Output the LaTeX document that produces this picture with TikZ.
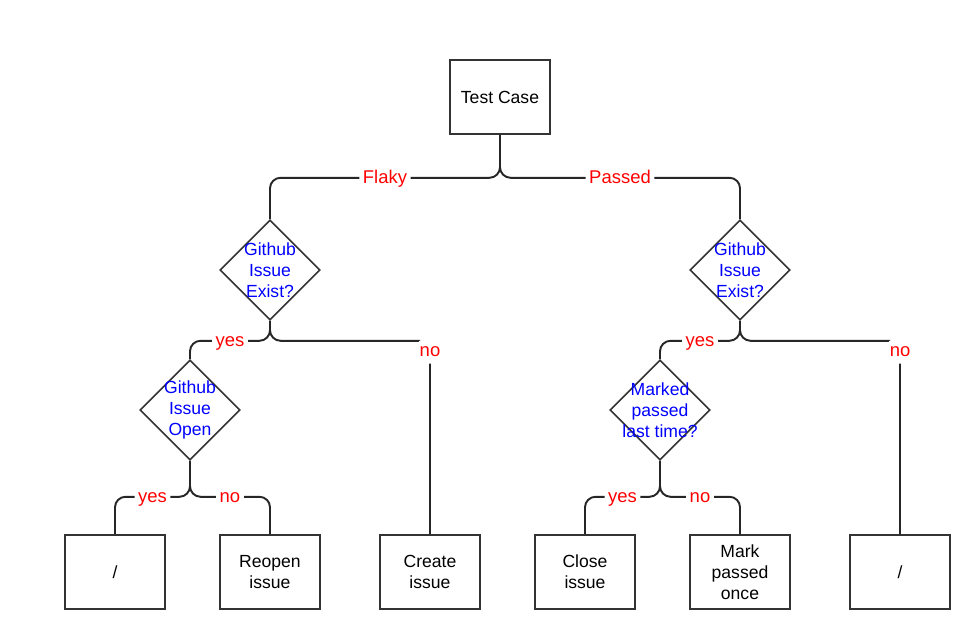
\documentclass[tikz,border=0pt]{standalone}
\usepackage{fontspec}
\setmainfont{Liberation Sans}
\usetikzlibrary{shapes.geometric}

\begin{document}
\begin{tikzpicture}[x=0.02cm, y=-0.02cm,
		box/.style={draw=black!80, line width=0.9pt, minimum width=2cm, minimum height=1.48cm, align=center, font=\fontsize{10}{12}\selectfont},
		question/.style={draw=black!80, line width=0.9pt, diamond, minimum width=2cm, minimum height=2cm, inner sep=0pt},
		ask/.style={text=blue, align=center, font=\fontsize{10}{12}\selectfont},
		branch/.style={draw=black!85, line width=1.1pt, rounded corners=6pt},
		answer/.style={text=red, fill=white, inner sep=2pt, text height=1.6ex, text depth=0.4ex, font=\fontsize{10.5}{12}\selectfont}]
		\useasboundingbox (0,0) rectangle (970,629);
		
		% top
		\node[box] (tc) at (500,97) {Test Case};
		
		% questions
		\node[question, label={[ask]center:Github\\Issue\\Exist?}] (q1) at (270,270) {};
		\node[question, label={[ask]center:Github\\Issue\\Exist?}] (q2) at (740,270) {};
		\node[question, label={[ask]center:Github\\Issue\\Open}] (q3) at (190,410) {};
		\node[question, label={[ask]center:Marked\\passed\\last time?}] (q4) at (660,410) {};
		
		% actions
		\node[box] (a1) at (115,572) {/};
		\node[box] (a2) at (270,572) {Reopen\\issue};
		\node[box] (a3) at (430,572) {Create\\issue};
		\node[box] (a4) at (585,572) {Close\\issue};
		\node[box] (a5) at (740,572) {Mark\\passed\\once};
		\node[box] (a6) at (900,572) {/};
		
		% branches
		\draw[branch] (tc.south) -- ++(0,43) -| node[answer,pos=0.25] {Flaky} (q1.north);
		\draw[branch] (tc.south) -- ++(0,43) -| node[answer,pos=0.25] {Passed} (q2.north);
		
		\draw[branch] (q1.south) -- ++(0,20) -| node[answer,pos=0.25] {yes} (q3.north);
		\draw[branch] (q1.south) -- ++(0,20) -| node[answer,pos=0.5,yshift=-0.2cm] {no} (a3.north);
		\draw[branch] (q2.south) -- ++(0,20) -| node[answer,pos=0.25] {yes} (q4.north);
		\draw[branch] (q2.south) -- ++(0,20) -| node[answer,pos=0.5,yshift=-0.2cm] {no} (a6.north);
		
		\draw[branch] (q3.south) -- ++(0,36) -| node[answer,pos=0.25] {yes} (a1.north);
		\draw[branch] (q3.south) -- ++(0,36) -| node[answer,pos=0.25] {no} (a2.north);
		\draw[branch] (q4.south) -- ++(0,36) -| node[answer,pos=0.25] {yes} (a4.north);
		\draw[branch] (q4.south) -- ++(0,36) -| node[answer,pos=0.25] {no} (a5.north);
	\end{tikzpicture}
\end{document}
